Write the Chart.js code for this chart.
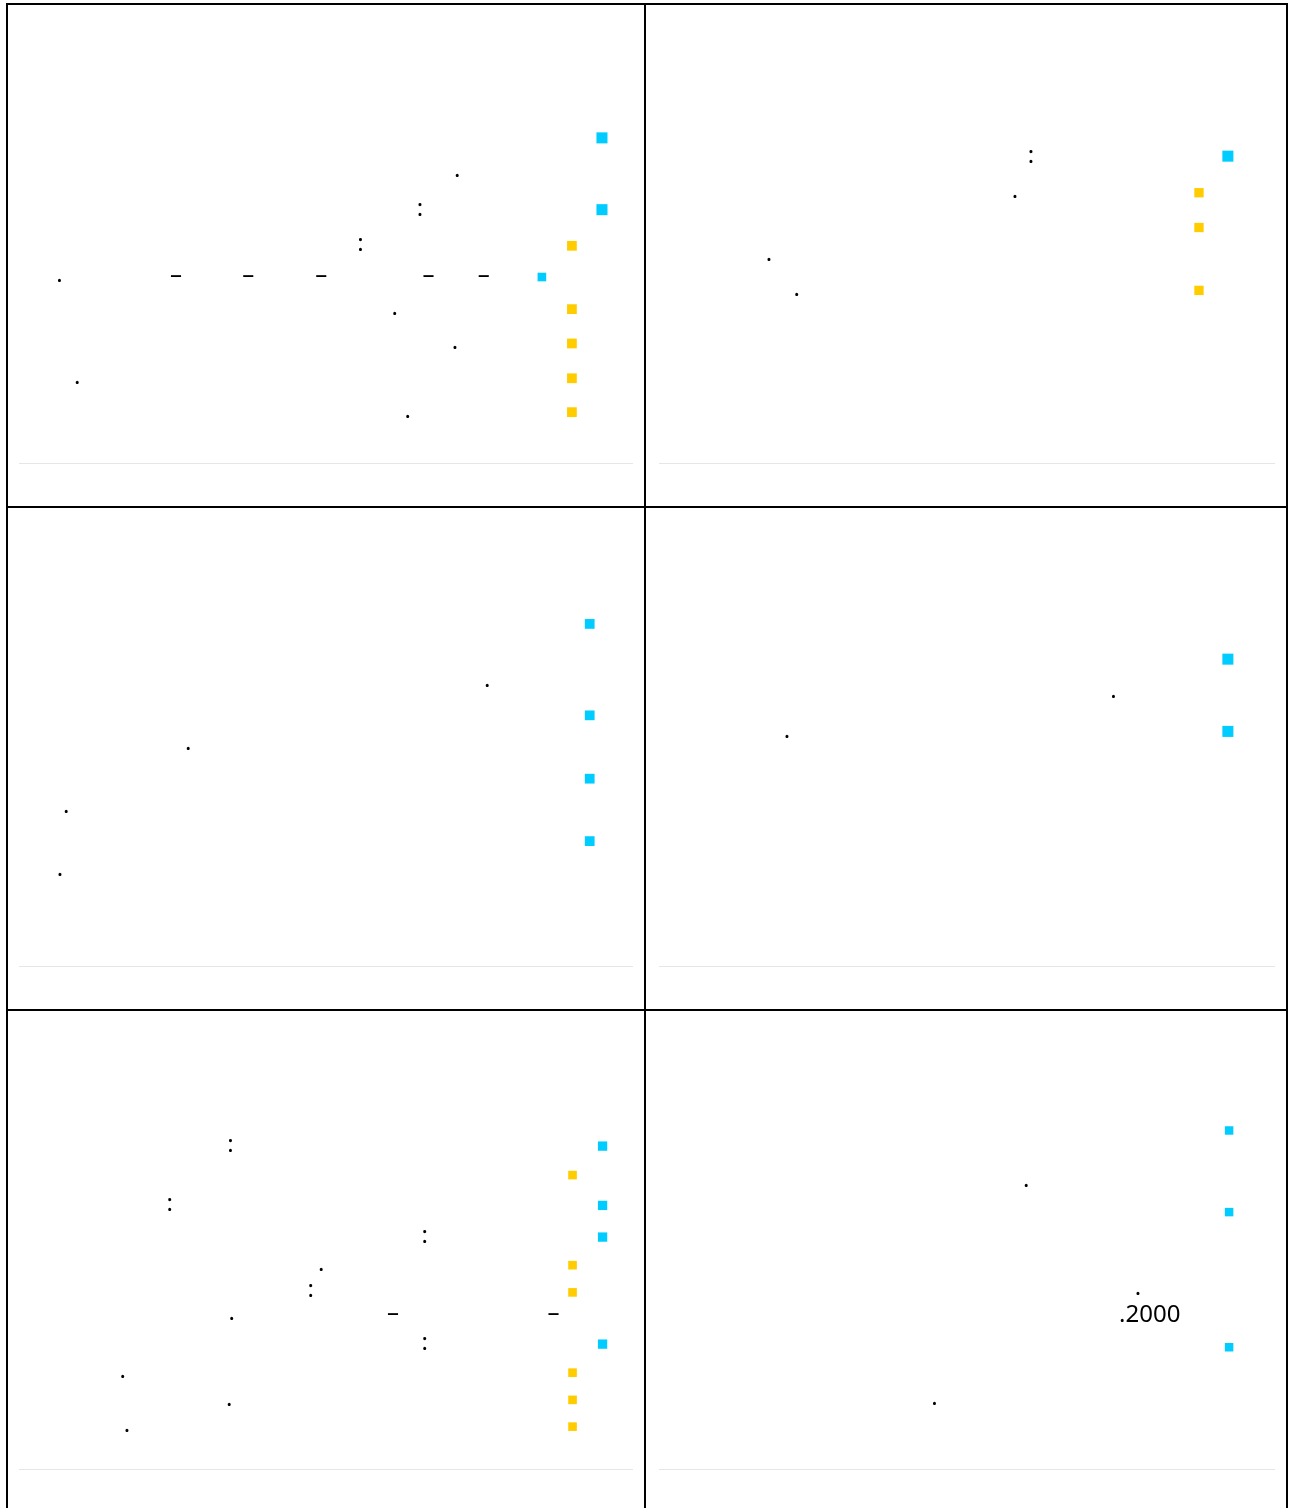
<!DOCTYPE html>
<html>
<head>
<meta charset="utf-8">
<script src="https://cdn.jsdelivr.net/npm/chart.js@4"></script>
<style>
  body { margin: 0; background: #fff; }
  #grid {
    position: absolute; left: 6px; top: 3px;
    display: grid;
    grid-template-columns: 636px 640px;
    grid-template-rows: 501px 501px 501px;
    gap: 2px; padding: 2px; background: #000;
  }
  #grid div { background: #fff; }
</style>
</head>
<body>
<div id="grid">
  <div><canvas id="c1" width="636" height="501"></canvas></div>
  <div><canvas id="c2" width="640" height="501"></canvas></div>
  <div><canvas id="c3" width="636" height="501"></canvas></div>
  <div><canvas id="c4" width="640" height="501"></canvas></div>
  <div><canvas id="c5" width="636" height="501"></canvas></div>
  <div><canvas id="c6" width="640" height="501"></canvas></div>
</div>
<script>
// point lists are [x, y] on a 0-100 scale, text lists are [text, x, y]
var panel1Cyan = [[95.1, 72.9], [95.1, 56.8]];
var panel1CyanSmall = [[85.3, 41.7]];
var panel1Yellow = [[90.2, 48.7], [90.2, 34.5], [90.2, 26.8], [90.2, 19.0], [90.2, 11.4]];
var panel1Text = [['.', 6.6, 40.5], ['.', 9.5, 17.7], ['–', 25.6, 40.5], ['–', 37.4, 40.5],
  ['–', 49.3, 40.5], ['–', 66.8, 40.5], ['–', 75.8, 40.5], ['.', 71.5, 64.1],
  [':', 65.4, 55.3], [':', 55.7, 47.5], ['.', 61.3, 33.1], ['.', 71.1, 25.5], ['.', 63.4, 10.0]];

var panel2Cyan = [[92.5, 68.8]];
var panel2Yellow = [[87.8, 60.6], [87.8, 52.8], [87.8, 38.7]];
var panel2Text = [[':', 60.5, 67.2], ['.', 57.9, 59.4], ['.', 17.9, 45.2], ['.', 22.4, 37.4]];

var panel3Cyan = [[93.1, 76.7], [93.1, 56.2], [93.1, 42.0], [93.1, 28.0]];
var panel3Text = [['.', 76.4, 62.5], ['.', 27.6, 48.4], ['.', 7.7, 34.3], ['.', 6.7, 20.1]];

var panel4Cyan = [[92.5, 68.8], [92.5, 52.6]];
var panel4Text = [['.', 73.9, 60.0], ['.', 20.8, 51.1]];

var panel5Cyan = [[95.2, 72.4], [95.2, 59.1], [95.2, 52.0], [95.2, 28.0]];
var panel5Yellow = [[90.3, 65.9], [90.3, 45.7], [90.3, 39.6], [90.3, 21.6], [90.3, 15.5], [90.3, 9.5]];
var panel5Text = [[':', 34.5, 71.0], [':', 24.6, 57.8], [':', 66.2, 50.6], [':', 47.6, 38.5],
  [':', 66.2, 26.6], ['.', 49.3, 44.5], ['.', 34.7, 33.5], ['.', 16.9, 20.3], ['.', 34.3, 14.2],
  ['.', 17.6, 8.2], ['–', 61.0, 33.5], ['–', 87.2, 33.5]];

var panel6Cyan = [[92.7, 75.9], [92.7, 57.6], [92.7, 27.3]];
var panel6Text = [['.', 59.7, 63.3], ['.', 77.9, 39.0], ['.2000', 79.8, 33.0], ['.', 44.8, 14.4]];

var CYAN = 'rgb(0, 204, 255)';
var YELLOW = 'rgb(255, 204, 0)';

function pts(list) {
    return list.map(function (p) { return {x: p[0], y: p[1]}; });
}

var textPlugin = {
    id: 'textMarks',
    afterDatasetsDraw: function (chart) {
        var items = chart.options.plugins.textMarks.items;
        var ctx = chart.ctx;
        ctx.save();
        ctx.font = '24px "Noto Sans"';
        ctx.fillStyle = '#000';
        ctx.textAlign = 'center';
        ctx.textBaseline = 'alphabetic';
        items.forEach(function (t) {
            ctx.fillText(t[0], chart.scales.x.getPixelForValue(t[1]), chart.scales.y.getPixelForValue(t[2]));
        });
        ctx.restore();
    }
};

// col 0 = left column, col 1 = right column
function makeChart(id, col, sets, texts) {
    var datasets = sets.map(function (s) {
        return {
            data: pts(s.data),
            pointStyle: 'rect',
            pointRadius: s.r,
            pointBackgroundColor: s.color,
            pointBorderWidth: 0,
            showLine: false
        };
    });
    var pad = col === 0 ? {left: 11, right: 12, top: 12, bottom: 43} : {left: 13, right: 12, top: 12, bottom: 43};
    new Chart(document.getElementById(id), {
        type: 'scatter',
        data: {datasets: datasets},
        plugins: [textPlugin],
        options: {
            responsive: false,
            animation: false,
            layout: {padding: pad},
            plugins: {legend: {display: false}, tooltip: {enabled: false}, textMarks: {items: texts}},
            scales: {
                x: {
                    min: 0, max: 100,
                    ticks: {display: false},
                    grid: {display: false, drawTicks: false},
                    border: {display: true, color: '#e6e6e6', width: 1}
                },
                y: {min: 0, max: 100, display: false}
            }
        }
    });
}

function load() {
    makeChart('c1', 0, [{data: panel1Cyan, color: CYAN, r: 7.8}, {data: panel1CyanSmall, color: CYAN, r: 6.1},
        {data: panel1Yellow, color: YELLOW, r: 6.9}], panel1Text);
    makeChart('c2', 1, [{data: panel2Cyan, color: CYAN, r: 7.8}, {data: panel2Yellow, color: YELLOW, r: 6.6}], panel2Text);
    makeChart('c3', 0, [{data: panel3Cyan, color: CYAN, r: 6.9}], panel3Text);
    makeChart('c4', 1, [{data: panel4Cyan, color: CYAN, r: 7.8}], panel4Text);
    makeChart('c5', 0, [{data: panel5Cyan, color: CYAN, r: 6.6}, {data: panel5Yellow, color: YELLOW, r: 6.1}], panel5Text);
    makeChart('c6', 1, [{data: panel6Cyan, color: CYAN, r: 6.0}], panel6Text);
}

window.onload = load;
</script>
</body>
</html>
